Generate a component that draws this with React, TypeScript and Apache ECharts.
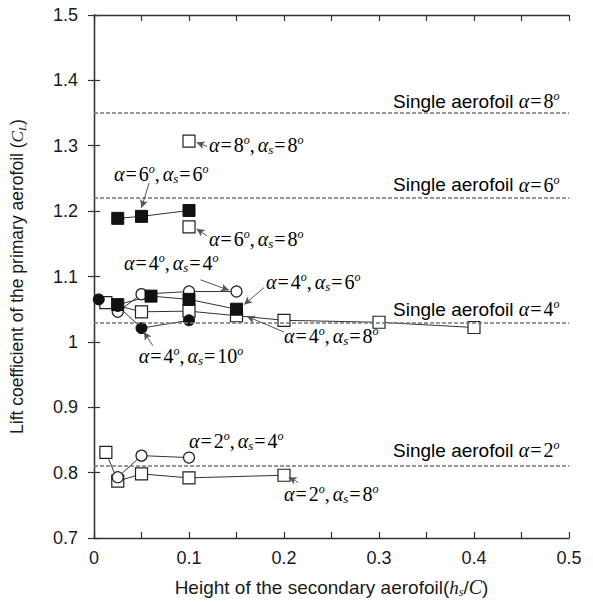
import React, { useEffect, useRef } from "react";
import * as echarts from "echarts";

// ---- data ----
const a8s8_h = [0.1];
const a8s8_cl = [1.307];

const a6s6_h = [0.025, 0.05, 0.1];
const a6s6_cl = [1.189, 1.192, 1.201];

const a6s8_h = [0.1];
const a6s8_cl = [1.176];

const a4s4_h = [0.025, 0.05, 0.1, 0.15];
const a4s4_cl = [1.046, 1.073, 1.077, 1.077];

const a4s6_h = [0.025, 0.06, 0.1, 0.15];
const a4s6_cl = [1.057, 1.07, 1.065, 1.05];

const a4s8_h = [0.0125, 0.05, 0.1, 0.15, 0.2, 0.3, 0.4];
const a4s8_cl = [1.06, 1.046, 1.047, 1.04, 1.033, 1.03, 1.022];

const a4s10_h = [0.005, 0.025, 0.05, 0.1];
const a4s10_cl = [1.065, 1.055, 1.021, 1.033];

const a2s4_h = [0.025, 0.05, 0.1];
const a2s4_cl = [0.793, 0.826, 0.823];

const a2s8_h = [0.0125, 0.025, 0.05, 0.1, 0.2];
const a2s8_cl = [0.831, 0.787, 0.798, 0.792, 0.796];

// single aerofoil reference lift coefficients
const singleAlpha = [8, 6, 4, 2];
const singleCL = [1.348, 1.216, 1.026, 0.811];

// annotation labels (data coordinates)
const annAlpha = [8, 6, 6, 4, 4, 4, 4, 2, 2];
const annAlphaS = [8, 6, 8, 4, 6, 8, 10, 4, 8];
const annTextX = [0.121, 0.021, 0.121, 0.0315, 0.181, 0.2, 0.047, 0.1, 0.2];
const annTextY = [1.301, 1.257, 1.158, 1.12, 1.092, 1.009, 0.978, 0.849, 0.767];
const annArrow: (number[] | null)[] = [
  [0.119, 1.299, 0.108, 1.305],
  [0.058, 1.243, 0.05, 1.205],
  [0.119, 1.162, 0.108, 1.173],
  [0.112, 1.095, 0.142, 1.079],
  [0.179, 1.083, 0.158, 1.057],
  [0.2, 1.015, 0.161, 1.039],
  [0.062, 0.994, 0.0525, 1.015],
  null,
  [0.215, 0.785, 0.205, 0.793],
];

const singleLabelX = 0.49;
const singleLabelDy = [0.02, 0.024, 0.024, 0.023];

const zip = (h: number[], c: number[]) => h.map((v, i) => [v, c[i]]);

const serif = "Liberation Serif";
const sans = "Liberation Sans";
const ink = "#1a1a1a";

const richStyles: any = {
  t: { fontFamily: sans, fontSize: 19, color: ink, lineHeight: 26 },
  g: { fontFamily: serif, fontStyle: "italic", fontSize: 20, color: ink, lineHeight: 26 },
  n: { fontFamily: serif, fontSize: 20, color: ink, lineHeight: 26 },
  eq: { fontFamily: serif, fontSize: 20, color: ink, lineHeight: 26, padding: [0, 2, 0, 1] },
  cm: { fontFamily: serif, fontSize: 20, color: ink, lineHeight: 26, padding: [0, 3, 0, 0] },
  sup: { fontFamily: serif, fontStyle: "italic", fontSize: 12, color: ink, lineHeight: 12, verticalAlign: "top", padding: [2, 0, 0, 0] },
  sub: { fontFamily: serif, fontStyle: "italic", fontSize: 13, color: ink, lineHeight: 13, verticalAlign: "bottom", padding: [0, 0, 2, 0] },
};

const annText = (a: number, s: number) =>
  `{g|α}{eq|=}{n|${a}}{sup|o}{cm|,}{g|α}{sub|s}{eq|=}{n|${s}}{sup|o}`;

const openSq = { symbol: "rect", symbolSize: 12, itemStyle: { color: "#fff", borderColor: "#222", borderWidth: 1.2 } };
const fillSq = { symbol: "rect", symbolSize: 12, itemStyle: { color: "#111", borderColor: "#111", borderWidth: 1 } };
const openCi = { symbol: "circle", symbolSize: 11, itemStyle: { color: "#fff", borderColor: "#222", borderWidth: 1.2 } };
const fillCi = { symbol: "circle", symbolSize: 11, itemStyle: { color: "#111", borderColor: "#111", borderWidth: 1 } };

const mkSeries = (name: string, h: number[], c: number[], sym: any) => ({
  name,
  type: "line",
  data: zip(h, c),
  showSymbol: true,
  ...sym,
  lineStyle: { color: "#333", width: 1 },
  z: 3,
});

export default function App() {
  const ref = useRef<HTMLDivElement>(null);
  useEffect(() => {
    if (!ref.current) return;
    const chart = echarts.init(ref.current, undefined, { renderer: "svg" });

    const axisLine = { show: true, lineStyle: { color: "#333", width: 1.3 } };
    const tick = { show: true, inside: true, length: 6, lineStyle: { color: "#333", width: 1.2 } };
    const option: any = {
      animation: false,
      backgroundColor: "#fff",
      grid: { left: 93, right: 24, top: 15, bottom: 62, containLabel: false },
      xAxis: [
        {
          type: "value",
          min: 0,
          max: 0.5,
          interval: 0.05,
          position: "bottom",
          axisLine,
          axisTick: tick,
          splitLine: { show: false },
          axisLabel: {
            margin: 11,
            fontFamily: sans,
            fontSize: 18,
            color: ink,
            formatter: (v: number) => {
              const k = Math.round(v * 100);
              return k % 10 === 0 ? String(k / 100) : "";
            },
          },
          name: "{t|Height of the secondary aerofoil(}{h|h}{sub|s}{t|/}{c|C}{t|)}",
          nameLocation: "middle",
          nameGap: 38,
          nameTextStyle: {
            rich: {
              t: { fontFamily: sans, fontSize: 19, color: ink, lineHeight: 22 },
              h: { fontFamily: serif, fontStyle: "italic", fontSize: 19, color: ink, lineHeight: 22 },
              c: { fontFamily: serif, fontStyle: "italic", fontSize: 20, color: ink, lineHeight: 22 },
              sub: { fontFamily: serif, fontStyle: "italic", fontSize: 12, color: ink, lineHeight: 12, verticalAlign: "bottom" },
            },
          },
        },
        {
          type: "value",
          min: 0,
          max: 0.5,
          interval: 0.05,
          position: "top",
          axisLine,
          axisTick: tick,
          axisLabel: { show: false },
          splitLine: { show: false },
        },
      ],
      yAxis: [
        {
          type: "value",
          min: 0.7,
          max: 1.5,
          interval: 0.1,
          position: "left",
          axisLine,
          axisTick: tick,
          splitLine: { show: false },
          axisLabel: { margin: 16, fontFamily: sans, fontSize: 18, color: ink },
          name: "{t|Lift coefficient of the primary aerofoil (}{c|C}{sub|L}{t|)}",
          nameLocation: "middle",
          nameGap: 67,
          nameTextStyle: {
            rich: {
              t: { fontFamily: sans, fontSize: 17.5, color: ink, lineHeight: 20 },
              c: { fontFamily: serif, fontStyle: "italic", fontSize: 17, color: ink, lineHeight: 20 },
              sub: { fontFamily: serif, fontStyle: "italic", fontSize: 11, color: ink, lineHeight: 11, verticalAlign: "bottom" },
            },
          },
        },
        {
          type: "value",
          min: 0.7,
          max: 1.5,
          interval: 0.1,
          position: "right",
          axisLine,
          axisTick: tick,
          axisLabel: { show: false },
          splitLine: { show: false },
        },
      ],
      series: [
        {
          name: "single",
          type: "line",
          data: [],
          markLine: {
            silent: true,
            symbol: ["none", "none"],
            label: { show: false },
            lineStyle: { color: "#777", type: [4, 2], width: 1.5 },
            data: singleCL.map((v) => ({ yAxis: v })),
          },
        },
        mkSeries("a4s8", a4s8_h, a4s8_cl, openSq),
        mkSeries("a4s4", a4s4_h, a4s4_cl, openCi),
        mkSeries("a4s10", a4s10_h, a4s10_cl, fillCi),
        mkSeries("a4s6", a4s6_h, a4s6_cl, fillSq),
        mkSeries("a6s6", a6s6_h, a6s6_cl, fillSq),
        mkSeries("a6s8", a6s8_h, a6s8_cl, openSq),
        mkSeries("a8s8", a8s8_h, a8s8_cl, openSq),
        mkSeries("a2s8", a2s8_h, a2s8_cl, openSq),
        mkSeries("a2s4", a2s4_h, a2s4_cl, openCi),
        {
          name: "arrows",
          type: "line",
          data: [],
          markLine: {
            silent: true,
            symbol: ["none", "arrow"],
            symbolSize: [6, 8],
            label: { show: false },
            lineStyle: { color: "#555", type: "solid", width: 1 },
            data: annArrow
              .filter((a) => a)
              .map((a) => [{ coord: [a![0], a![1]] }, { coord: [a![2], a![3]] }]),
          },
        },
      ],
    };
    chart.setOption(option);

    const graphics: any[] = [];
    annAlpha.forEach((a, i) => {
      const p = chart.convertToPixel({ gridIndex: 0 } as any, [annTextX[i], annTextY[i]]) as number[];
      graphics.push({
        type: "text",
        x: p[0],
        y: p[1],
        z: 10,
        style: { text: annText(a, annAlphaS[i]), rich: richStyles, align: "left", verticalAlign: "middle" },
      });
    });
    singleAlpha.forEach((a, i) => {
      const p = chart.convertToPixel({ gridIndex: 0 } as any, [singleLabelX, singleCL[i] + singleLabelDy[i]]) as number[];
      graphics.push({
        type: "text",
        x: p[0],
        y: p[1],
        z: 10,
        style: {
          text: `{t|Single aerofoil }{g|α}{eq|=}{n|${a}}{sup|o}`,
          rich: richStyles,
          align: "right",
          verticalAlign: "middle",
        },
      });
    });
    chart.setOption({ graphic: graphics });

    return () => chart.dispose();
  }, []);

  return (
    <div
      ref={ref}
      style={{ position: "fixed", left: 0, top: 0, width: 593, height: 603, background: "#fff" }}
    />
  );
}
